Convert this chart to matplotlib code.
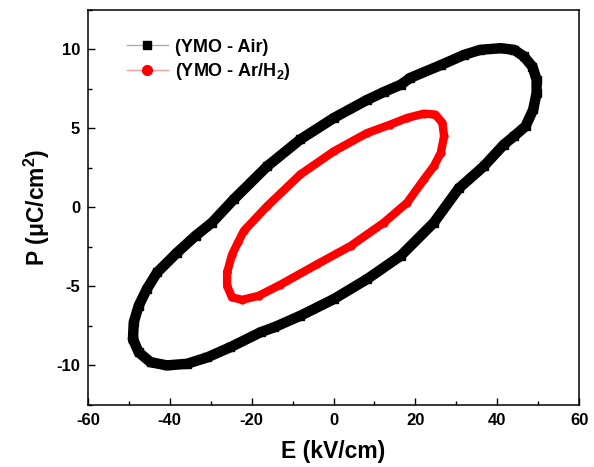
import matplotlib
matplotlib.use("Agg")
import matplotlib.pyplot as plt
from matplotlib.lines import Line2D
from matplotlib.ticker import MultipleLocator

plt.rcParams['font.family'] = ['Liberation Sans', 'DejaVu Sans']
plt.rcParams['font.weight'] = 'bold'
plt.rcParams['axes.unicode_minus'] = False
plt.rcParams['mathtext.fontset'] = 'custom'
plt.rcParams['mathtext.rm'] = 'Liberation Sans:bold'
plt.rcParams['mathtext.bf'] = 'Liberation Sans:bold'
plt.rcParams['mathtext.it'] = 'Liberation Sans:bold'
plt.rcParams['mathtext.default'] = 'bf'

# ---- data ----
E_air = [-49.0, -48.8, -47.6, -45.6, -43.1, -38.2, -33.7, -29.7, -24.4, -16.2,
         -8.1, 0.1, 8.2, 12.3, 16.4, 18.8, 26.2, 31.9, 35.9, 40.8,
         44.1, 46.5, 48.6, 49.6, 49.6, 48.8, 46.9, 44.1, 41.6, 36.7,
         30.6, 24.5, 16.4, 8.2, 0.1, -8.1, -14.6, -17.8, -25.2, -30.9,
         -35.8, -40.7, -44.7, -47.6, -49.0]
P_air = [-8.33, -7.27, -6.23, -5.17, -4.12, -2.86, -1.8, -0.97, 0.5, 2.6,
         4.3, 5.66, 6.8, 7.3, 7.76, 8.2, 9.0, 9.65, 9.97, 10.07,
         9.97, 9.55, 8.9, 8.08, 7.24, 6.2, 5.13, 4.5, 3.97, 2.6,
         1.2, -0.97, -3.07, -4.54, -5.8, -6.86, -7.6, -7.9, -8.85, -9.5,
         -9.9, -10.0, -9.8, -9.17, -8.33]

E_h2 = [-26.0, -24.8, -23.3, -21.9, -16.2, -8.1, 0.1, 8.2, 13.9, 18.0,
        22.1, 24.9, 26.6, 27.0, 26.2, 24.5, 22.1, 18.0, 12.3, 4.2,
        -4.0, -13.0, -18.3, -22.3, -24.8, -26.0, -26.0]
P_h2 = [-4.12, -3.0, -2.2, -1.49, 0.08, 2.08, 3.55, 4.7, 5.24, 5.66,
        5.93, 5.87, 5.34, 4.5, 3.45, 2.6, 1.77, 0.3, -0.97, -2.44,
        -3.6, -4.9, -5.6, -5.85, -5.7, -4.97, -4.12]

labels = ['(YMO - Air)', '(YMO - Ar/H$_2$)']
x_ticks = [-60, -40, -20, 0, 20, 40, 60]
y_ticks = [-10, -5, 0, 5, 10]

fig = plt.figure(figsize=(5.94, 4.67), dpi=100)
ax = fig.add_axes([0.148, 0.133, 0.827, 0.846])

ax.plot(E_air, P_air, color='black', lw=7.5, solid_joinstyle='round',
        solid_capstyle='round', marker='s', ms=5.5, zorder=2)
ax.plot(E_h2, P_h2, color='#ff0000', lw=6.0, solid_joinstyle='round',
        solid_capstyle='round', marker='o', ms=5, zorder=3)

ax.set_xlim(-60, 60)
ax.set_ylim(-12.5, 12.5)
ax.set_xticks(x_ticks)
ax.set_yticks(y_ticks)
ax.xaxis.set_minor_locator(MultipleLocator(10))
ax.yaxis.set_minor_locator(MultipleLocator(2.5))
ax.tick_params(which='both', direction='in', top=False, right=False,
               labelsize=12, width=1, pad=5.5)
ax.tick_params(which='major', length=5)
ax.tick_params(which='minor', length=3)
for t in ax.get_xticklabels() + ax.get_yticklabels():
    t.set_fontweight('bold')
for s in ax.spines.values():
    s.set_linewidth(1.1)

ax.set_xlabel('E (kV/cm)', fontsize=16.5, fontweight='bold', labelpad=9)
ax.set_ylabel('P (\u03bcC/cm$^2$)', fontsize=16.5, fontweight='bold', labelpad=3)

handles = [
    Line2D([], [], color='#b0b0b0', lw=1, marker='s', ms=6,
           markerfacecolor='black', markeredgecolor='black'),
    Line2D([], [], color='#f4a0a0', lw=1, marker='o', ms=7,
           markerfacecolor='#ff0000', markeredgecolor='#ff0000'),
]
leg = ax.legend(handles, labels, loc='upper left', bbox_to_anchor=(0.079, 0.927),
                frameon=False, borderaxespad=0, borderpad=0, handlelength=2.3,
                handletextpad=0.4, labelspacing=0.3,
                prop={'weight': 'bold', 'size': 13})

fig.savefig('out.png', dpi=100)
